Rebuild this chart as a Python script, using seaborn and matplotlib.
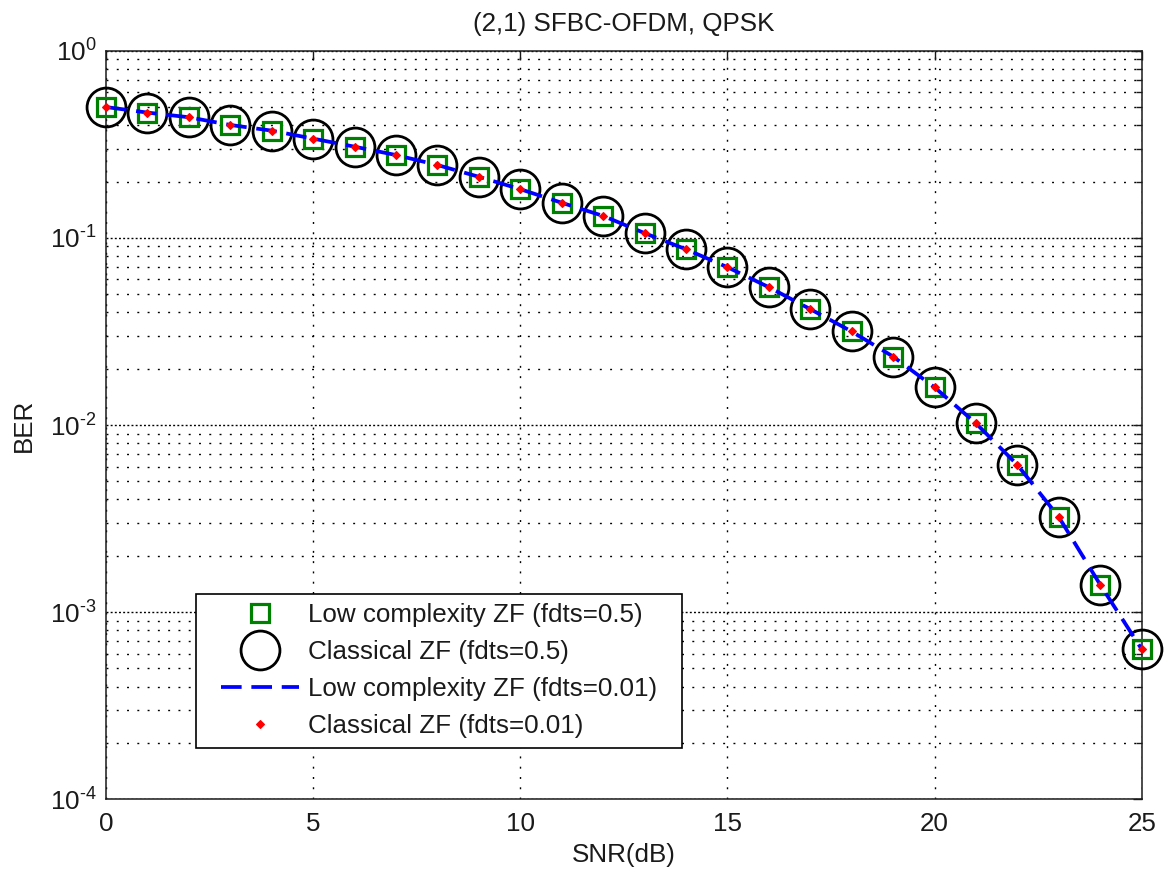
import matplotlib
matplotlib.use("Agg")
import numpy as np
import matplotlib.pyplot as plt
from matplotlib.ticker import LogLocator, NullFormatter, MultipleLocator, FuncFormatter
import pandas as pd
import seaborn as sns

# SNR sweep (dB)
snr_db = list(range(26))

# Bit error rates for each receiver / Doppler setting
ber_lowcx_fd05 = [0.500, 0.467, 0.441, 0.401, 0.374, 0.339, 0.307, 0.277, 0.245, 0.212,
                  0.182, 0.154, 0.131, 0.106, 0.0869, 0.0697, 0.0545, 0.0416, 0.0316, 0.0232,
                  0.0159, 0.0102, 0.00612, 0.00322, 0.00140, 0.000634]
ber_classic_fd05 = [0.500, 0.467, 0.441, 0.401, 0.374, 0.339, 0.307, 0.277, 0.245, 0.212,
                    0.182, 0.154, 0.131, 0.106, 0.0869, 0.0697, 0.0545, 0.0416, 0.0316, 0.0232,
                    0.0159, 0.0102, 0.00612, 0.00322, 0.00140, 0.000634]
ber_lowcx_fd001 = [0.500, 0.467, 0.441, 0.401, 0.374, 0.339, 0.307, 0.277, 0.245, 0.212,
                   0.182, 0.154, 0.131, 0.106, 0.0869, 0.0697, 0.0545, 0.0416, 0.0316, 0.0232,
                   0.0159, 0.0102, 0.00612, 0.00322, 0.00140, 0.000634]
ber_classic_fd001 = [0.500, 0.467, 0.441, 0.401, 0.374, 0.339, 0.307, 0.277, 0.245, 0.212,
                     0.182, 0.154, 0.131, 0.106, 0.0869, 0.0697, 0.0545, 0.0416, 0.0316, 0.0232,
                     0.0159, 0.0102, 0.00612, 0.00322, 0.00140, 0.000634]

series_labels = ["Low complexity ZF (fdts=0.5)", "Classical ZF (fdts=0.5)",
                 "Low complexity ZF (fdts=0.01)", "Classical ZF (fdts=0.01)"]

df = pd.DataFrame({
    "snr": snr_db * 4,
    "ber": ber_lowcx_fd05 + ber_classic_fd05 + ber_lowcx_fd001 + ber_classic_fd001,
    "series": sum([[s] * len(snr_db) for s in series_labels], []),
})

FS = 18.7
sns.set_style("white")
plt.rcParams["font.family"] = ["Liberation Sans", "DejaVu Sans"]
plt.rcParams["mathtext.fontset"] = "custom"
plt.rcParams["mathtext.rm"] = "Liberation Sans"
plt.rcParams["mathtext.it"] = "Liberation Sans"
plt.rcParams["mathtext.bf"] = "Liberation Sans"
plt.rcParams["font.size"] = FS
plt.rcParams["text.color"] = "#1a1a1a"

fig = plt.figure(figsize=(11.68, 8.73), dpi=100)
ax = fig.add_axes([0.09075, 0.08442, 0.88673, 0.8575])

styles = {
    series_labels[0]: dict(linestyle="none", marker="s", markersize=12.5,
                           markerfacecolor="none", markeredgecolor="#008000",
                           markeredgewidth=2.3, color="#008000"),
    series_labels[1]: dict(linestyle="none", marker="o", markersize=28,
                           markerfacecolor="none", markeredgecolor="black",
                           markeredgewidth=2.0, color="black"),
    series_labels[2]: dict(linestyle=(0, (5.5, 2.6)), linewidth=2.7, color="#0000ff"),
    series_labels[3]: dict(linestyle="none", marker="D", markersize=4.5,
                           markerfacecolor="red", markeredgecolor="red",
                           markeredgewidth=0.8, color="red"),
}

for i, lab in enumerate(series_labels):
    sub = df[df["series"] == lab]
    sns.lineplot(data=sub, x="snr", y="ber", ax=ax, errorbar=None, label=lab,
                 clip_on=False, zorder=3 + i, legend=False, **styles[lab])


def decade_label(v, pos):
    e = int(round(np.log10(v)))
    exp = r"\text{-}%d" % (-e) if e < 0 else "%d" % e
    return r"$\mathdefault{10^{%s}}$" % exp


ax.set_yscale("log")
ax.set_xlim(0, 25)
ax.set_ylim(1e-4, 1)
ax.xaxis.set_major_locator(MultipleLocator(5))
ax.yaxis.set_major_locator(LogLocator(base=10, numticks=10))
ax.yaxis.set_minor_locator(LogLocator(base=10, subs=range(2, 10), numticks=20))
ax.yaxis.set_minor_formatter(NullFormatter())
ax.yaxis.set_major_formatter(FuncFormatter(decade_label))

ax.tick_params(axis="both", which="both", direction="in", top=True, right=True,
               colors="#1a1a1a", labelsize=FS)
ax.tick_params(axis="both", which="major", length=6.5, width=1.0, pad=7)
ax.tick_params(axis="y", which="minor", length=4, width=1.0)
ax.tick_params(axis="x", which="major", pad=9)
for sp in ax.spines.values():
    sp.set_linewidth(1.1)
    sp.set_color("#1a1a1a")

# dotted grid
ax.grid(True, axis="x", which="major", color="black", linestyle=(0, (1.4, 6.0)), linewidth=1.0)
ax.grid(True, axis="y", which="major", color="black", linestyle=(0, (1.4, 1.6)), linewidth=1.0)
ax.grid(True, axis="y", which="minor", color="black", linestyle=(0, (1.4, 6.0)), linewidth=1.0)
ax.set_axisbelow(True)

ax.set_title("(2,1) SFBC-OFDM, QPSK", fontsize=FS, pad=14, color="#1a1a1a")
ax.set_xlabel("SNR(dB)", fontsize=FS, labelpad=5, color="#1a1a1a")
ax.set_ylabel("BER", fontsize=FS, labelpad=10, color="#1a1a1a")

handles, labels = ax.get_legend_handles_labels()
leg = ax.legend(handles, labels, loc="lower left",
                bbox_to_anchor=(0.1024, 0.0692), borderaxespad=0,
                fontsize=FS, frameon=True, fancybox=False, framealpha=1,
                edgecolor="black", handlelength=3.0, handletextpad=0.35,
                borderpad=0.35, labelspacing=0.5, markerscale=1.0)
leg.get_frame().set_linewidth(1.2)
leg.get_frame().set_boxstyle("square", pad=0.6)
leg.get_frame().set_mutation_aspect(0.02)

fig.savefig("out.png", dpi=100)
